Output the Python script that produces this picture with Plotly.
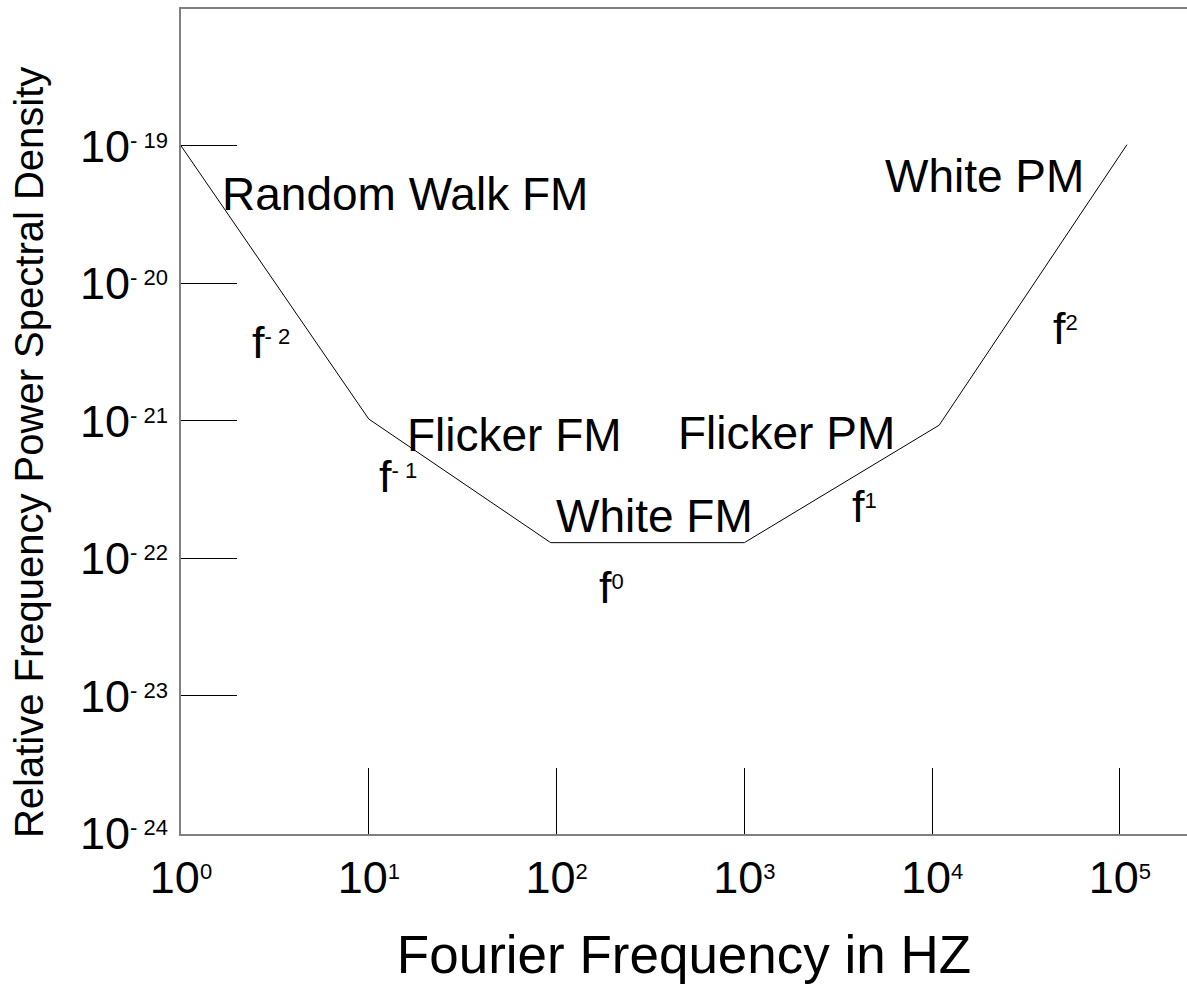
import plotly.graph_objects as go

# ---- data ----
freq_hz = [1, 10, 93, 1000, 10900, 109000]
psd = [1.0e-19, 1.03e-21, 1.3e-22, 1.3e-22, 9.3e-22, 1.02e-19]

x_tick_vals = [1, 10, 100, 1000, 1e4, 1e5]
x_tick_exps = ["0", "1", "2", "3", "4", "5"]
y_tick_vals = [1e-19, 1e-20, 1e-21, 1e-22, 1e-23, 1e-24]
y_tick_exps = ["- 19", "- 20", "- 21", "- 22", "- 23", "- 24"]

label_texts = ["Random Walk FM", "White PM", "Flicker FM", "Flicker PM", "White FM"]
label_x = [1.193, 4.281, 1.778, 3.224, 2.519]          # log10(Hz)
label_y = [-19.350, -19.220, -21.106, -21.085, -21.695]  # log10(PSD)

slope_bases = ["f", "f", "f", "f", "f"]
slope_exps = ["- 2", "- 1", "0", "1", "2"]
slope_x = [0.4766, 1.155, 2.295, 3.637, 4.712]
slope_y = [-20.43, -21.405, -22.212, -21.623, -20.328]

FONT = "Liberation Sans, Arial, sans-serif"
SUP = "<span style='font-size:22px;baseline-shift:14px'>{}</span>"


def pow_text(base, exp):
    return base + SUP.format(exp)


fig = go.Figure()
fig.add_trace(go.Scatter(x=freq_hz, y=psd, mode="lines",
                         line=dict(color="black", width=1),
                         showlegend=False, hoverinfo="skip"))

for t, x, y in zip(label_texts, label_x, label_y):
    fig.add_annotation(x=x, y=y, xref="x", yref="y", text=t, showarrow=False,
                       xanchor="center", yanchor="middle",
                       font=dict(family=FONT, size=46, color="black"))

for b, e, x, y in zip(slope_bases, slope_exps, slope_x, slope_y):
    fig.add_annotation(x=x, y=y, xref="x", yref="y", text=pow_text(b, e), showarrow=False,
                       xanchor="center", yanchor="middle",
                       font=dict(family=FONT, size=45, color="black"))

# y-axis title
fig.add_annotation(x=-0.151, y=0.4618, xref="paper", yref="paper",
                   text="Relative Frequency Power Spectral Density",
                   textangle=-90, showarrow=False, xanchor="center", yanchor="middle",
                   font=dict(family=FONT, size=40, color="black"))

fig.update_layout(
    width=1187, height=984,
    margin=dict(l=181, r=0, t=9, b=150),
    paper_bgcolor="white", plot_bgcolor="white",
    font=dict(family=FONT, color="black"),
    xaxis=dict(
        type="log", range=[0, 5.357],
        tickvals=x_tick_vals,
        ticktext=[pow_text("10", e) for e in x_tick_exps],
        ticks="inside", ticklen=66, tickwidth=1, tickcolor="black",
        ticklabelstandoff=3,
        tickfont=dict(family=FONT, size=45, color="black"),
        showline=True, linecolor="#808080", linewidth=2, mirror=True,
        showgrid=False, zeroline=False,
        title=dict(text="Fourier Frequency in HZ", standoff=42,
                   font=dict(family=FONT, size=53, color="black")),
    ),
    yaxis=dict(
        type="log", range=[-24.005, -18.005],
        tickvals=y_tick_vals,
        ticktext=[pow_text("10", e) for e in y_tick_exps],
        ticks="inside", ticklen=56, tickwidth=1, tickcolor="black",
        ticklabelstandoff=2,
        tickfont=dict(family=FONT, size=45, color="black"),
        showline=True, linecolor="#808080", linewidth=2, mirror=False,
        showgrid=False, zeroline=False,
    ),
)

fig.write_html("out.html", config={"displayModeBar": False},
               post_script="document.body.style.margin='0';document.body.style.overflow='hidden';")
